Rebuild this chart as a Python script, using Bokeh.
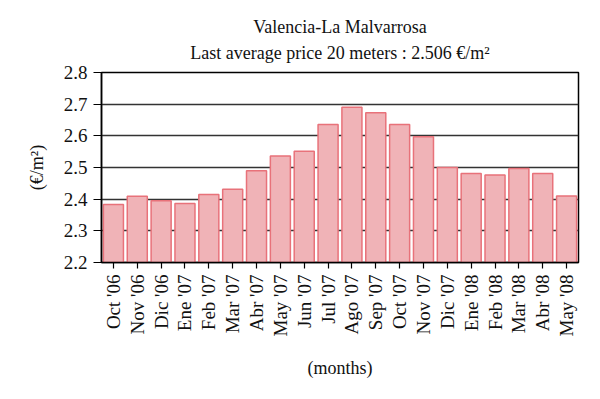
import math
from bokeh.plotting import figure
from bokeh.models import FactorRange, Range1d, Title, FixedTicker, ColumnDataSource
from bokeh.embed import file_html
from bokeh.resources import INLINE

months = ["Oct '06", "Nov '06", "Dic '06", "Ene '07", "Feb '07", "Mar '07", "Abr '07",
          "May '07", "Jun '07", "Jul '07", "Ago '07", "Sep '07", "Oct '07", "Nov '07",
          "Dic '07", "Ene '08", "Feb '08", "Mar '08", "Abr '08", "May '08"]
prices = [2.383, 2.409, 2.395, 2.386, 2.415, 2.431, 2.490, 2.536, 2.551, 2.636,
          2.690, 2.673, 2.636, 2.597, 2.500, 2.481, 2.476, 2.497, 2.481, 2.410]
y_ticks = [2.2, 2.3, 2.4, 2.5, 2.6, 2.7, 2.8]

FONT = "Liberation Serif"

p = figure(x_range=FactorRange(*months, range_padding=0), y_range=Range1d(2.2, 2.8),
           frame_width=477, frame_height=190,
           min_border_left=101, min_border_right=14, min_border_top=72, min_border_bottom=10,
           output_backend="svg", toolbar_location=None)

src = ColumnDataSource(dict(m=months, v=prices))
p.vbar(x="m", top="v", bottom=2.2, width=0.84, source=src,
       fill_color="#f0b3b7", line_color="#e8727a", line_width=1.5)

t2 = Title(text="Last average price 20 meters : 2.506 €/m²", align="center",
           text_font=FONT, text_font_size="18px", text_font_style="normal",
           text_color="#111111", standoff=19)
t1 = Title(text="Valencia-La Malvarrosa", align="center",
           text_font=FONT, text_font_size="18px", text_font_style="normal",
           text_color="#111111", standoff=-11)
p.add_layout(t2, "above")
p.add_layout(t1, "above")

p.outline_line_color = "black"
p.outline_line_width = 1.5
p.xgrid.grid_line_color = None
p.ygrid.grid_line_color = "#333333"
p.ygrid.grid_line_width = 1.5

p.yaxis.ticker = FixedTicker(ticks=y_ticks)
p.yaxis.minor_tick_line_color = None
p.yaxis.major_tick_out = 8
p.yaxis.major_tick_in = 0
p.yaxis.axis_label = "(€/m²)"
p.xaxis.axis_label = "(months)"
p.xaxis.major_label_orientation = math.pi / 2
p.xaxis.major_tick_out = 6
p.xaxis.major_tick_in = 0

for ax in (p.xaxis[0], p.yaxis[0]):
    ax.axis_line_color = "black"
    ax.axis_line_width = 1.5
    ax.major_tick_line_color = "black"
    ax.major_tick_line_width = 1.2
    ax.major_label_text_font = FONT
    ax.major_label_text_font_size = "19px"
    ax.major_label_text_color = "#111111"
    ax.axis_label_text_font = FONT
    ax.axis_label_text_font_size = "18px"
    ax.axis_label_text_font_style = "normal"
    ax.axis_label_text_color = "#111111"

p.yaxis.major_label_standoff = 6
p.yaxis.axis_label_standoff = 14
p.xaxis.major_label_standoff = 6
p.xaxis.axis_label_standoff = 18

open("out.html", "w").write(file_html(p, INLINE))
